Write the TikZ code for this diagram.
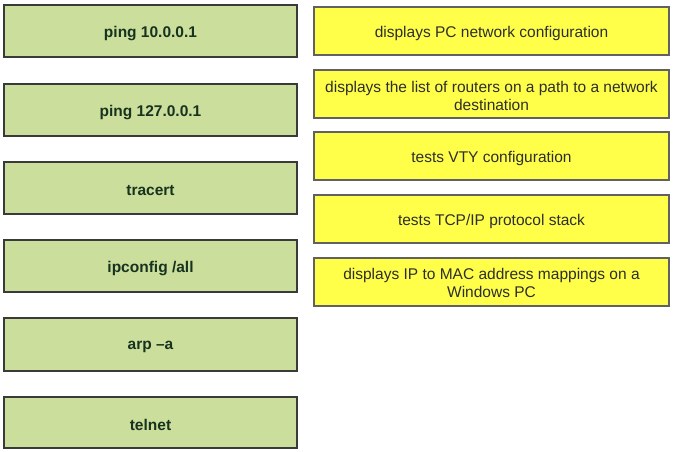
\documentclass[tikz,border=0pt]{standalone}
\usepackage{fontspec}
\setmainfont{Liberation Sans}
\definecolor{gfill}{HTML}{CCDE9C}
\definecolor{gtext}{HTML}{17331F}
\definecolor{yfill}{HTML}{FFFF4A}
\definecolor{ytext}{HTML}{2E2E2E}
\definecolor{bord}{HTML}{3A3A3A}
\begin{document}
\begin{tikzpicture}[x=1pt,y=-1pt,
  cmdbox/.style={draw=bord, line width=1.3pt, fill=gfill},
  cmdtext/.style={text=gtext, font=\fontsize{15.5}{18}\selectfont\bfseries},
  descbox/.style={draw=bord!80, line width=1.1pt, fill=yfill},
  desctext/.style={text=ytext, font=\fontsize{15.5}{18.5}\selectfont, align=center}]
\useasboundingbox (0,0) rectangle (674,451);
\fill[white] (0,0) rectangle (674,451);
% left command boxes
\foreach \n/\t/\b/\txt in {c1/5/57/{ping 10.0.0.1}, c2/84/136/{ping 127.0.0.1}, c3/162/214/{tracert}, c4/240/292/{ipconfig /all}, c5/318/371/{arp –a}, c6/397/448/{telnet}}{
  \draw[cmdbox] (4,\t) rectangle (297,\b);
  \node[cmdtext] (\n) at (150.5,{(\t+\b)/2+2.5}) {\txt};
}
% right description boxes
\draw[descbox] (314,7) rectangle (669,55);
\node[desctext] (d1) at (491.5,33.5) {displays PC network configuration};
\draw[descbox] (314,70) rectangle (669,118);
\node[desctext] (d2) at (491.5,96) {displays the list of routers on a path to a network\\destination};
\draw[descbox] (314,132) rectangle (669,180);
\node[desctext] (d3) at (491.5,158.5) {tests VTY configuration};
\draw[descbox] (314,195) rectangle (669,243);
\node[desctext] (d4) at (491.5,221.5) {tests TCP/IP protocol stack};
\draw[descbox] (314,258) rectangle (669,306);
\node[desctext] (d5) at (491.5,283) {displays IP to MAC address mappings on a\\Windows PC};
\end{tikzpicture}
\end{document}
